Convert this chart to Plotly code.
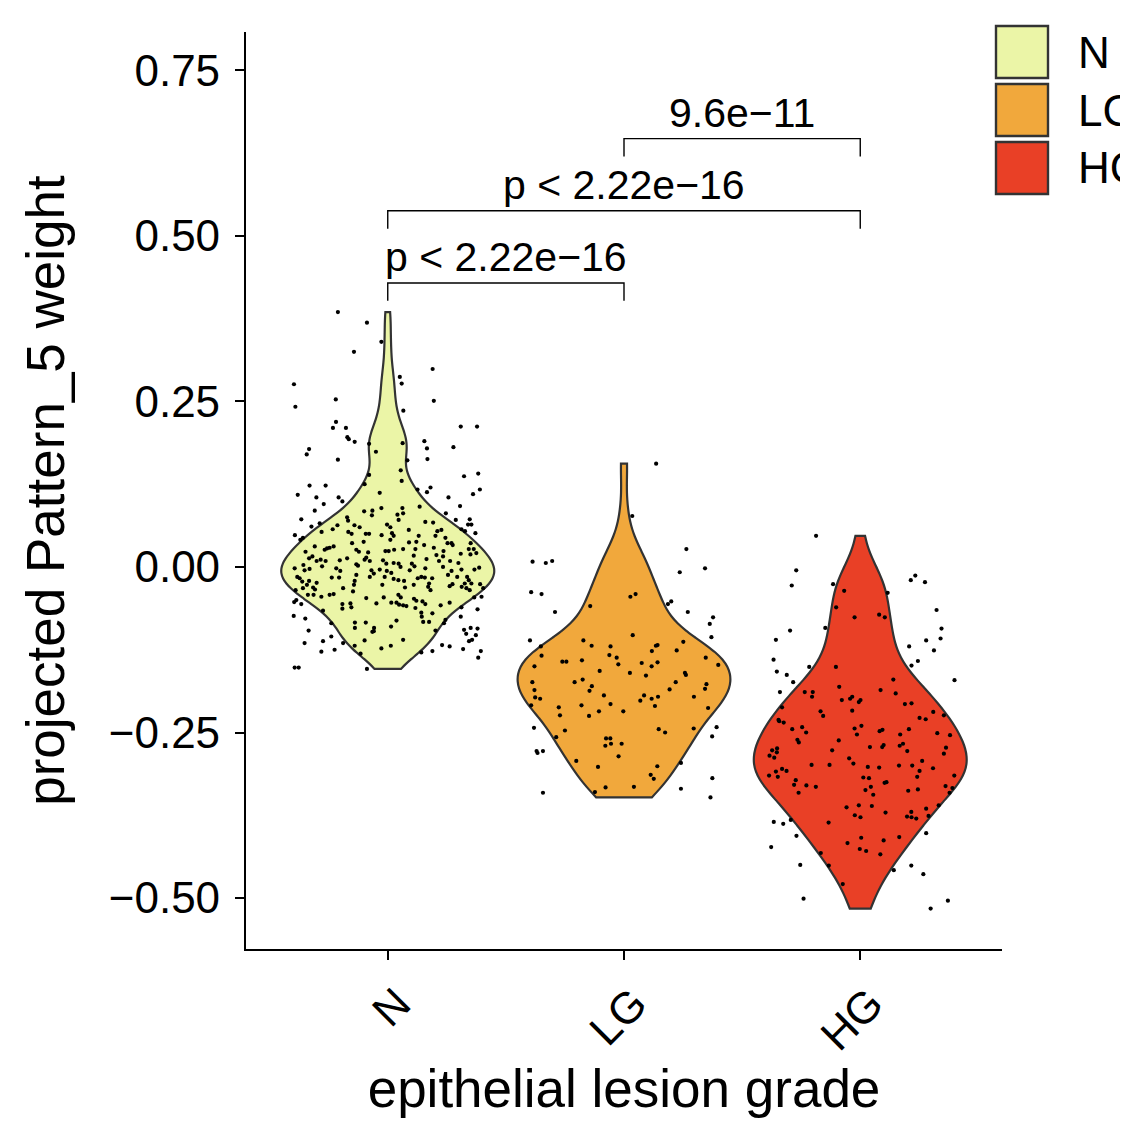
import numpy as np
import plotly.graph_objects as go

# ---------------- data ----------------
groups = ["N", "LG", "HG"]
fill_colors = ["#EBF5A7", "#F1A83C", "#E94026"]

N_values = [
    0.385, 0.369, 0.340, 0.325, 0.299, 0.276, 0.287, 0.277, 0.242, 0.253, 0.251, 0.236, 0.219, 0.210,
    0.210, 0.212, 0.212, 0.196, 0.193, 0.189, 0.186, 0.187, 0.190, 0.179, 0.181, 0.178, 0.170, 0.174,
    0.162, 0.161, 0.163, 0.146, 0.137, 0.141, 0.139, 0.130, 0.123, 0.123, 0.125, 0.117, 0.117, 0.120,
    0.113, 0.110, 0.109, 0.105, 0.105, 0.112, 0.105, 0.095, 0.099, 0.085, 0.092, 0.085, 0.084, 0.089,
    0.089, 0.091, 0.081, 0.079, 0.072, 0.075, 0.078, 0.081, 0.070, 0.063, 0.061, 0.066, 0.057, 0.053,
    0.063, 0.060, 0.064, 0.060, 0.071, 0.068, 0.067, 0.054, 0.056, 0.071, 0.057, 0.072, 0.064, 0.064,
    0.048, 0.044, 0.041, 0.053, 0.050, 0.050, 0.050, 0.048, 0.051, 0.047, 0.041, 0.056, 0.047, 0.047,
    0.044, 0.054, 0.051, 0.036, 0.038, 0.037, 0.038, 0.036, 0.036, 0.036, 0.027, 0.026, 0.029, 0.031,
    0.028, 0.031, 0.023, 0.016, 0.011, 0.009, 0.009, 0.013, 0.026, 0.023, 0.022, 0.014, 0.009, 0.011,
    0.013, 0.010, 0.024, 0.024, 0.026, 0.027, 0.017, 0.027, 0.033, 0.029, 0.018, 0.016, 0.024, 0.033,
    0.020, 0.027, 0.019, 0.021, 0.010, 0.005, 0.006, 0.005, 0.000, 0.005, 0.001, 0.012, 0.009, 0.009,
    0.006, -0.002, 0.003, -0.005, -0.003, 0.001, -0.002, -0.006, 0.004, 0.002, -0.005, -0.004, -0.006,
    -0.010, -0.009, -0.005, -0.002, 0.000, -0.006, -0.004, -0.004, -0.001, -0.015, -0.022, -0.017,
    -0.021, -0.024, -0.016, -0.016, -0.012, -0.021, -0.015, -0.015, -0.018, -0.020, -0.021, -0.017,
    -0.015, -0.016, -0.025, -0.017, -0.012, -0.015, -0.015, -0.020, -0.026, -0.035, -0.032, -0.027,
    -0.031, -0.034, -0.032, -0.042, -0.045, -0.042, -0.042, -0.041, -0.037, -0.027, -0.027, -0.031,
    -0.027, -0.030, -0.035, -0.029, -0.026, -0.030, -0.032, -0.035, -0.025, -0.025, -0.032, -0.050,
    -0.056, -0.053, -0.045, -0.046, -0.047, -0.046, -0.042, -0.046, -0.054, -0.057, -0.058, -0.059,
    -0.048, -0.051, -0.052, -0.056, -0.058, -0.054, -0.061, -0.064, -0.056, -0.063, -0.055, -0.061,
    -0.066, -0.055, -0.054, -0.074, -0.078, -0.085, -0.084, -0.092, -0.084, -0.092, -0.098, -0.090,
    -0.081, -0.062, -0.069, -0.070, -0.083, -0.083, -0.075, -0.096, -0.085, -0.080, -0.075, -0.092,
    -0.095, -0.093, -0.103, -0.096, -0.105, -0.112, -0.115, -0.115, -0.119, -0.111, -0.097, -0.123,
    -0.119, -0.110, -0.129, -0.127, -0.118, -0.120, -0.124, -0.101, -0.112, -0.110, -0.127, -0.137,
    -0.128, -0.125, -0.131, -0.152, -0.152, -0.154,
]
N_jitter = [
    -0.211, -0.088, -0.027, -0.143, 0.190, -0.397, 0.051, 0.059, -0.391, -0.220, 0.195, 0.066, -0.219,
    -0.232, -0.177, 0.309, 0.378, -0.171, -0.165, -0.140, -0.079, 0.063, 0.155, 0.166, 0.278, -0.333,
    -0.343, -0.050, -0.211, 0.083, 0.168, 0.055, 0.323, 0.383, -0.079, 0.059, -0.331, -0.263, -0.098,
    0.390, 0.126, 0.181,
    0.166, 0.361, -0.381, -0.302, -0.208, -0.034, 0.257, -0.271, -0.192, -0.309, 0.306, -0.065, -0.100,
    -0.027, 0.062, 0.135, 0.065, 0.041, -0.366, -0.172, -0.067, 0.246, -0.168, -0.213, -0.323, -0.288,
    -0.233, -0.280, -0.141, -0.119, -0.003, 0.011, 0.046, 0.159, 0.192, 0.210, 0.227, 0.288, 0.312,
    0.347, 0.340, 0.354, -0.393, -0.359, -0.370, -0.167, -0.153, -0.093, -0.079, -0.026, 0.018, 0.025,
    0.011, 0.089, 0.131, 0.202, 0.244, 0.327, 0.371, -0.151, -0.102, 0.090, 0.121, 0.253, 0.270, 0.351,
    0.364, -0.267, -0.246, -0.229, -0.257, -0.309, -0.348, -0.319, -0.284, -0.263, -0.301, -0.333,
    -0.133, -0.122, -0.083, -0.091, -0.076, -0.098, -0.172, -0.203, -0.010, 0.004, 0.027, 0.065, 0.110,
    0.117, 0.154, 0.195, 0.206, 0.234, 0.236, 0.275, 0.309, 0.343, 0.350, 0.375, -0.020, -0.006, 0.025,
    0.046, 0.054, 0.102, 0.113, 0.164, 0.217, 0.264, 0.299, -0.394, -0.357, -0.352, -0.331, -0.278,
    -0.218, -0.201, -0.133, -0.126, -0.069, -0.034, -0.004, -0.059, 0.015, 0.093, 0.159, 0.234, 0.270,
    0.312, 0.367, 0.387, -0.383, -0.362, -0.373, -0.333, -0.301, -0.237, -0.206, -0.133, -0.140, -0.076,
    -0.013, 0.025, 0.045, 0.069, 0.127, 0.142, 0.157, 0.175, 0.188, 0.255, 0.294, 0.336, 0.343, 0.391,
    -0.390, -0.359, -0.342, -0.316, -0.308, -0.189, -0.246, -0.281, -0.338, -0.314, -0.229, -0.147,
    -0.143, -0.023, 0.073, 0.110, 0.171, 0.181, 0.262, 0.274, 0.313, 0.333, 0.347, 0.326, 0.354, 0.404,
    -0.387, -0.366, -0.396, 0.397, 0.366, -0.091, -0.017, 0.045, 0.055, 0.037, 0.048, 0.065, 0.079,
    0.111, 0.121, 0.147, 0.159, 0.224, 0.262, 0.312, 0.380, -0.192, -0.192, -0.158, -0.154, -0.274,
    -0.048, 0.015, -0.398, -0.349, -0.239, -0.139, -0.139, -0.093, -0.058, -0.065, 0.014, 0.037, 0.117,
    0.142, 0.189, 0.175, 0.150, 0.144, 0.202, 0.238, 0.244, 0.309, 0.351, 0.323, 0.380, 0.373, -0.335,
    -0.239, -0.274, -0.352, -0.189, -0.140, -0.098, -0.059, -0.027, 0.013, 0.065, 0.142, 0.189, 0.230,
    0.262, 0.319, 0.332, 0.344, 0.357, 0.394, 0.383, -0.281, -0.225, -0.115, -0.394, -0.377, -0.088,
]

LG_values = [
    0.156, 0.077, 0.027, 0.008, 0.006, 0.009, -0.002, -0.008, -0.038, -0.041, -0.045, -0.041, -0.052,
    -0.056, -0.068, -0.059, -0.068, -0.076, -0.086,
    -0.111, -0.120, -0.111, -0.119, -0.120, -0.103, -0.127, -0.119, -0.118, -0.126, -0.113, -0.106,
    -0.134, -0.143, -0.143, -0.141, -0.133, -0.137, -0.147, -0.145, -0.150, -0.144, -0.137, -0.148,
    -0.150, -0.157, -0.160, -0.164, -0.160, -0.163, -0.174, -0.174, -0.170, -0.180, -0.187, -0.174,
    -0.185, -0.177, -0.184, -0.186, -0.197, -0.199, -0.194, -0.207, -0.194, -0.202, -0.199, -0.196,
    -0.210, -0.196, -0.209, -0.212, -0.224, -0.209, -0.225, -0.218, -0.218, -0.213, -0.243, -0.247,
    -0.257, -0.259, -0.259, -0.270, -0.267, -0.267, -0.245, -0.250, -0.244, -0.242, -0.256, -0.278,
    -0.281, -0.278, -0.286, -0.293, -0.302, -0.301, -0.314, -0.320, -0.296, -0.319, -0.341, -0.340,
    -0.333, -0.332, -0.335, -0.348,
]
LG_jitter = [
    0.136, 0.035, 0.264, -0.387, -0.331, -0.304, 0.343, 0.236, -0.393, -0.349, 0.027, 0.049, 0.200,
    0.186, -0.292, -0.143, 0.270, 0.377, 0.363,
    -0.398, -0.352, -0.172, -0.137, -0.057, 0.037, 0.118, 0.135, 0.142, 0.223, 0.251, 0.370, -0.349,
    -0.261, -0.244, -0.178, -0.062, -0.031, -0.024, 0.075, 0.117, 0.142, 0.346, 0.399, -0.379, -0.103,
    0.025, 0.093, 0.258, 0.262, -0.388, -0.209, -0.175, -0.136, -0.146, 0.219, 0.193, 0.349, 0.343,
    -0.379, -0.376, -0.355, -0.085, -0.057, 0.085, 0.069, 0.117, 0.144, 0.131, 0.296, -0.393, -0.276,
    -0.271, -0.180, -0.148, -0.106, -0.003, 0.356, -0.381, -0.250, -0.287, -0.076, -0.058, -0.079,
    -0.055, -0.010, 0.147, 0.174, 0.295, 0.392, 0.373, -0.370, -0.366, -0.343, -0.023, -0.202, -0.110,
    0.141, 0.113, 0.126, 0.241, 0.374, -0.343, -0.123, -0.078, 0.042, 0.241, 0.366,
]

HG_values = [
    0.047, -0.005, -0.028, -0.026, -0.036, -0.039, -0.020, -0.013, -0.023, -0.061, -0.076, -0.072,
    -0.076, -0.065, -0.096, -0.110, -0.092, -0.093, -0.108, -0.111, -0.120, -0.126, -0.140, -0.151,
    -0.151, -0.149, -0.142, -0.158, -0.163, -0.174, -0.170, -0.171, -0.189, -0.189, -0.189, -0.196,
    -0.181, -0.201, -0.199, -0.196, -0.204, -0.201, -0.186, -0.191, -0.207, -0.206, -0.212, -0.218,
    -0.225, -0.217, -0.219, -0.228, -0.230, -0.224, -0.231,
    -0.233, -0.235, -0.245, -0.242, -0.250, -0.244, -0.240, -0.253, -0.248, -0.246, -0.253, -0.245,
    -0.251, -0.254, -0.261, -0.265, -0.262, -0.269, -0.272, -0.272, -0.267, -0.270, -0.278, -0.273,
    -0.282, -0.277, -0.274, -0.280, -0.285, -0.288, -0.277, -0.289, -0.297, -0.299, -0.299, -0.302,
    -0.303, -0.300, -0.300, -0.293, -0.308, -0.304, -0.317, -0.315, -0.309, -0.305, -0.308, -0.315,
    -0.317, -0.318, -0.319, -0.322, -0.329, -0.330, -0.332, -0.341, -0.332, -0.337, -0.344, -0.326,
    -0.325, -0.338, -0.336, -0.331, -0.334, -0.341, -0.363, -0.360, -0.361, -0.375, -0.378, -0.371,
    -0.370, -0.377, -0.378, -0.380, -0.365, -0.376, -0.360, -0.385, -0.388, -0.382, -0.386, -0.406,
    -0.423, -0.409, -0.417, -0.426, -0.429, -0.413, -0.434, -0.408, -0.402, -0.432, -0.450, -0.451,
    -0.458, -0.451, -0.464, -0.479, -0.501, -0.504, -0.516,
]
HG_jitter = [
    -0.187, -0.271, -0.290, -0.115, -0.068, 0.116, 0.214, 0.233, 0.274, -0.102, -0.024, 0.080, 0.104,
    0.323, -0.297, -0.357, -0.148, 0.344, 0.340, 0.279, 0.207, 0.312, -0.367, -0.216, -0.103, 0.217,
    0.244, -0.353, -0.311, -0.284, 0.140, 0.399, -0.340, -0.235, -0.201, -0.204, -0.089, -0.078, -0.043,
    -0.034, -0.006, 0.001, 0.086, 0.150, 0.189, 0.217, -0.331, -0.168, -0.157, -0.034, 0.309, 0.251,
    0.277, 0.354, -0.346,
    -0.343, -0.324, -0.288, -0.246, -0.229, -0.024, 0.005, -0.014, 0.082, 0.094, 0.169, 0.206, 0.326,
    0.380, -0.266, -0.260, -0.091, 0.099, 0.093, 0.041, 0.181, 0.167, 0.199, 0.363, 0.354, -0.373,
    -0.352, -0.353, -0.384, -0.364, -0.119, -0.047, -0.029, -0.206, -0.130, 0.032, 0.080, 0.164, 0.220,
    0.262, 0.251, 0.308, 0.241, 0.398, -0.357, -0.331, -0.312, -0.386, -0.349, 0.013, 0.037, -0.273,
    -0.280, -0.228, -0.188, -0.261, 0.045, 0.022, 0.055, 0.103, 0.111, 0.203, 0.244, 0.361, 0.390,
    0.378, -0.058, -0.006, 0.049, -0.023, 0.001, 0.107, 0.216, 0.198, 0.217, 0.237, 0.279, 0.289, 0.332,
    -0.366, -0.326, -0.294, -0.134, -0.270, -0.377, 0.004, -0.054, -0.002, 0.025, 0.099, 0.085, 0.165,
    0.279, -0.167, -0.254, -0.133, 0.142, 0.216, 0.267, -0.074, -0.240, 0.371, 0.298,
]

# pairwise comparisons: (group a, group b, label, bracket height)
comparisons = [
    (0, 1, "p < 2.22e\u221216", 0.429),
    (0, 2, "p < 2.22e\u221216", 0.538),
    (1, 2, "9.6e\u221211", 0.647),
]

values = [N_values, LG_values, HG_values]
jitters = [N_jitter, LG_jitter, HG_jitter]

FONT = "Liberation Sans, Arial, Helvetica, sans-serif"
OUTLINE = "#333333"


def nrd0(v):
    """R's default bandwidth (bw.nrd0) used by ggplot2 violins."""
    v = np.asarray(v, dtype=float)
    sd = v.std(ddof=1)
    q75, q25 = np.percentile(v, [75, 25])
    lo = min(sd, (q75 - q25) / 1.34)
    return 0.9 * lo * len(v) ** -0.2


fig = go.Figure()

for i, (g, vals) in enumerate(zip(groups, values)):
    fig.add_trace(go.Violin(
        x=[i] * len(vals), y=vals, name=g,
        width=0.9, scalemode="width", spanmode="hard",
        bandwidth=nrd0(vals), points=False,
        fillcolor=fill_colors[i], opacity=1,
        line=dict(color=OUTLINE, width=2.2),
        box_visible=False, meanline_visible=False,
        showlegend=False, hoverinfo="skip",
    ))

for i, (vals, jit) in enumerate(zip(values, jitters)):
    fig.add_trace(go.Scatter(
        x=[i + j for j in jit], y=vals, mode="markers",
        marker=dict(color="black", size=4.2, line=dict(width=0)),
        showlegend=False, hoverinfo="skip",
    ))

# significance brackets
tip = 0.027
shapes = []
annotations = []
for a, b, label, h in comparisons:
    shapes.append(dict(
        type="path", xref="x", yref="y",
        path=f"M {a},{h - tip} L {a},{h} L {b},{h} L {b},{h - tip}",
        line=dict(color="black", width=1.4),
    ))
    annotations.append(dict(
        x=(a + b) / 2, y=h, xref="x", yref="y", text=label, showarrow=False,
        xanchor="center", yanchor="bottom", yshift=1,
        font=dict(family=FONT, size=41, color="black"),
    ))

# page geometry: the page body adds an 8 px margin around the figure
PAGE_OFF = 8
FIG_W, FIG_H = 1128 - PAGE_OFF, 1123 - PAGE_OFF
# plot panel in figure pixels
L, R, T, B = 246 - PAGE_OFF, 1002 - PAGE_OFF, 32 - PAGE_OFF, 949 - PAGE_OFF


def px(xp):  # page pixel -> paper x
    return (xp - PAGE_OFF - L) / (R - L)


def py(yp):  # page pixel -> paper y
    return (B - (yp - PAGE_OFF)) / (B - T)


# legend drawn as large keys (paper coordinates)
for i, g in enumerate(groups):
    top = 26 + 58 * i
    shapes.append(dict(
        type="rect", xref="paper", yref="paper",
        x0=px(996), x1=px(1048), y0=py(top + 52), y1=py(top),
        fillcolor=fill_colors[i], line=dict(color=OUTLINE, width=2.4),
    ))
    annotations.append(dict(
        x=px(1076), y=py(top + 26), xref="paper", yref="paper", text=g,
        showarrow=False, xanchor="left", yanchor="middle",
        font=dict(family=FONT, size=44, color="black"),
    ))

axis_common = dict(
    showline=True, linecolor="black", linewidth=2.2,
    ticks="outside", ticklen=9, tickwidth=2.2, tickcolor="black",
    showgrid=False, zeroline=False,
    tickfont=dict(family=FONT, size=44, color="black"),
)

fig.update_layout(
    width=FIG_W, height=FIG_H, autosize=False,
    margin=dict(l=L, r=FIG_W - R, t=T, b=FIG_H - B, autoexpand=False),
    plot_bgcolor="white", paper_bgcolor="white",
    font=dict(family=FONT, color="black"),
    violinmode="overlay",
    shapes=shapes, annotations=annotations,
    xaxis=dict(
        range=[-0.6, 2.6], tickvals=[0, 1, 2], ticktext=groups, tickangle=-45,
        title=dict(text="epithelial lesion grade", font=dict(family=FONT, size=53, color="black"),
                   standoff=0),
        ticklabelstandoff=0, ticklabelshift=10,
        **axis_common,
    ),
    yaxis=dict(
        range=[-0.577, 0.808], tick0=0, dtick=0.25, tickformat=".2f",
        title=dict(text="projected Pattern_5 weight", font=dict(family=FONT, size=53, color="black"),
                   standoff=27),
        ticklabelstandoff=6,
        **axis_common,
    ),
)

fig.write_html("out.html")
